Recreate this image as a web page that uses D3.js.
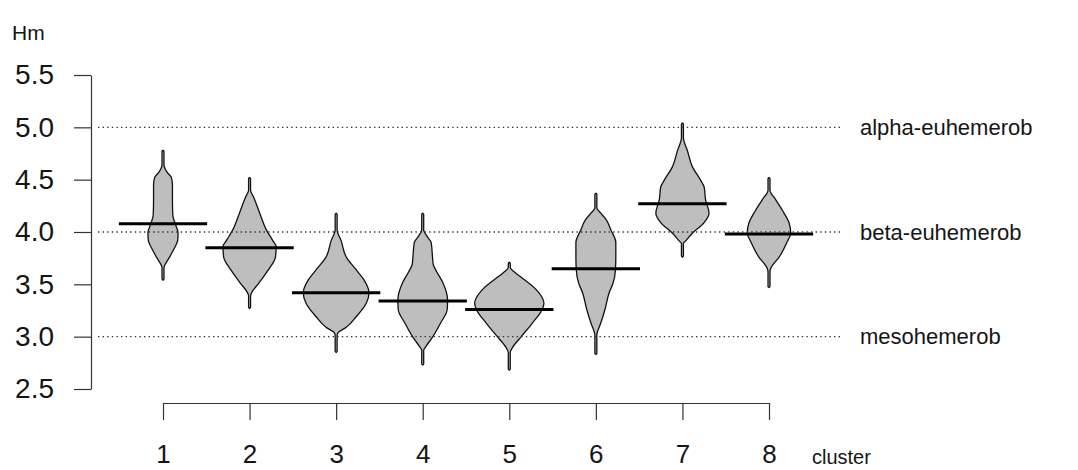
<!DOCTYPE html>
<html>
<head>
<meta charset="utf-8">
<script src="https://cdn.jsdelivr.net/npm/d3@7"></script>
<style>
  html, body { margin: 0; padding: 0; background: #fff; }
  svg { display: block; }
  text { font-family: "Liberation Sans", Arial, sans-serif; fill: #151515; }
</style>
</head>
<body>
<svg id="chart" width="1078" height="470"></svg>
<script>
// ---- data ----
const clusters = [1, 2, 3, 4, 5, 6, 7, 8];
const yTicks = [2.5, 3.0, 3.5, 4.0, 4.5, 5.0, 5.5];
const refValues = [5.0, 4.0, 3.0];
const refLabels = ["alpha-euhemerob", "beta-euhemerob", "mesohemerob"];
const beanLines = [4.08, 3.85, 3.42, 3.34, 3.26, 3.65, 4.27, 3.98];

// density profiles: [Hm value, relative density]
const dens1 = [[4.78,0],[4.77,0.028],[4.64,0.028],[4.57,0.12],[4.52,0.24],[4.45,0.27],[4.31,0.27],[4.16,0.28],[4.07,0.36],[3.99,0.43],[3.92,0.42],[3.83,0.30],[3.75,0.17],[3.69,0.06],[3.66,0.028],[3.55,0.028],[3.54,0]];
const dens2 = [[4.52,0],[4.51,0.028],[4.40,0.028],[4.33,0.12],[4.18,0.29],[4.02,0.48],[3.92,0.66],[3.86,0.76],[3.76,0.74],[3.64,0.54],[3.51,0.26],[3.42,0.06],[3.39,0.028],[3.28,0.028],[3.27,0]];
const dens3 = [[4.18,0],[4.17,0.028],[4.02,0.028],[3.92,0.14],[3.76,0.29],[3.64,0.57],[3.54,0.80],[3.42,0.94],[3.32,0.86],[3.19,0.57],[3.09,0.29],[3.04,0.06],[3.01,0.028],[2.86,0.028],[2.85,0]];
const dens4 = [[4.18,0],[4.17,0.028],[4.02,0.028],[3.96,0.12],[3.90,0.24],[3.76,0.28],[3.69,0.30],[3.62,0.40],[3.52,0.57],[3.35,0.71],[3.26,0.70],[3.13,0.51],[3.00,0.29],[2.90,0.08],[2.87,0.028],[2.74,0.028],[2.73,0]];
const dens5 = [[3.71,0],[3.70,0.028],[3.66,0.028],[3.62,0.14],[3.57,0.33],[3.45,0.77],[3.32,0.99],[3.26,0.94],[3.13,0.66],[3.00,0.34],[2.90,0.10],[2.85,0.028],[2.69,0.028],[2.68,0]];
const dens6 = [[4.37,0],[4.36,0.028],[4.23,0.028],[4.18,0.14],[4.12,0.29],[4.02,0.43],[3.90,0.57],[3.76,0.57],[3.64,0.56],[3.51,0.49],[3.42,0.38],[3.26,0.26],[3.13,0.14],[3.05,0.05],[3.02,0.028],[2.84,0.028],[2.83,0]];
const dens7 = [[5.04,0],[5.03,0.028],[4.90,0.028],[4.78,0.14],[4.62,0.29],[4.50,0.51],[4.43,0.62],[4.31,0.66],[4.18,0.76],[4.09,0.62],[3.99,0.29],[3.91,0.08],[3.89,0.028],[3.77,0.028],[3.76,0]];
const dens8 = [[4.52,0],[4.51,0.028],[4.40,0.028],[4.31,0.19],[4.18,0.43],[4.09,0.57],[3.99,0.62],[3.90,0.51],[3.76,0.29],[3.66,0.06],[3.62,0.028],[3.48,0.028],[3.47,0]];
const densities = [dens1, dens2, dens3, dens4, dens5, dens6, dens7, dens8];

// ---- layout ----
const svg = d3.select("#chart");
const y = d3.scaleLinear().domain([2.5, 5.5]).range([389, 75]);
const x = d3.scalePoint().domain(clusters).range([163, 769]);
const w = d3.scaleLinear().domain([0, 1]).range([0, 35]);
const halfLine = x.step() * 0.51;

// beans
const area = d3.area()
  .y(d => y(d[0]))
  .curve(d3.curveMonotoneY);

const beans = svg.append("g");
clusters.forEach((c, i) => {
  const cx = x(c);
  beans.append("path")
    .datum(densities[i])
    .attr("d", area.x0(d => cx - w(d[1])).x1(d => cx + w(d[1])))
    .attr("fill", "#bebebe")
    .attr("stroke", "#111")
    .attr("stroke-width", 1.3);
});

// bean lines
svg.append("g").selectAll("line")
  .data(clusters)
  .join("line")
  .attr("x1", (c) => x(c) - halfLine)
  .attr("x2", (c) => x(c) + halfLine)
  .attr("y1", (c, i) => y(beanLines[i]))
  .attr("y2", (c, i) => y(beanLines[i]))
  .attr("stroke", "#000")
  .attr("stroke-width", 3);

// reference dotted lines
svg.append("g").selectAll("line")
  .data(refValues)
  .join("line")
  .attr("x1", 98).attr("x2", 840)
  .attr("y1", d => y(d)).attr("y2", d => y(d))
  .attr("stroke", "#333")
  .attr("stroke-width", 1.3)
  .attr("stroke-dasharray", "1.4,3.2");

svg.append("g").selectAll("text")
  .data(refValues)
  .join("text")
  .attr("x", 860)
  .attr("y", d => y(d))
  .attr("dy", "0.35em")
  .attr("font-size", 22)
  .text((d, i) => refLabels[i]);

// y axis
const yAxis = svg.append("g")
  .attr("transform", "translate(91,0)")
  .call(d3.axisLeft(y).tickValues(yTicks).tickFormat(d3.format(".1f"))
    .tickSize(17).tickSizeOuter(0).tickPadding(20));
yAxis.selectAll("path, line").attr("stroke", "#333").attr("stroke-width", 1.2);
yAxis.selectAll("text").attr("font-size", 28).attr("font-family", "Liberation Sans, Arial, sans-serif").attr("fill", "#151515");

// x axis
const xAxis = svg.append("g")
  .attr("transform", "translate(0,403)")
  .call(d3.axisBottom(x).tickSize(17).tickSizeOuter(0).tickPadding(25));
xAxis.selectAll("path, line").attr("stroke", "#333").attr("stroke-width", 1.2);
xAxis.selectAll("text").attr("font-size", 26).attr("font-family", "Liberation Sans, Arial, sans-serif").attr("fill", "#151515");

// axis titles
svg.append("text").attr("x", 12).attr("y", 40).attr("font-size", 21).text("Hm");
svg.append("text").attr("x", 812).attr("y", 464).attr("font-size", 20).text("cluster");
</script>
</body>
</html>
